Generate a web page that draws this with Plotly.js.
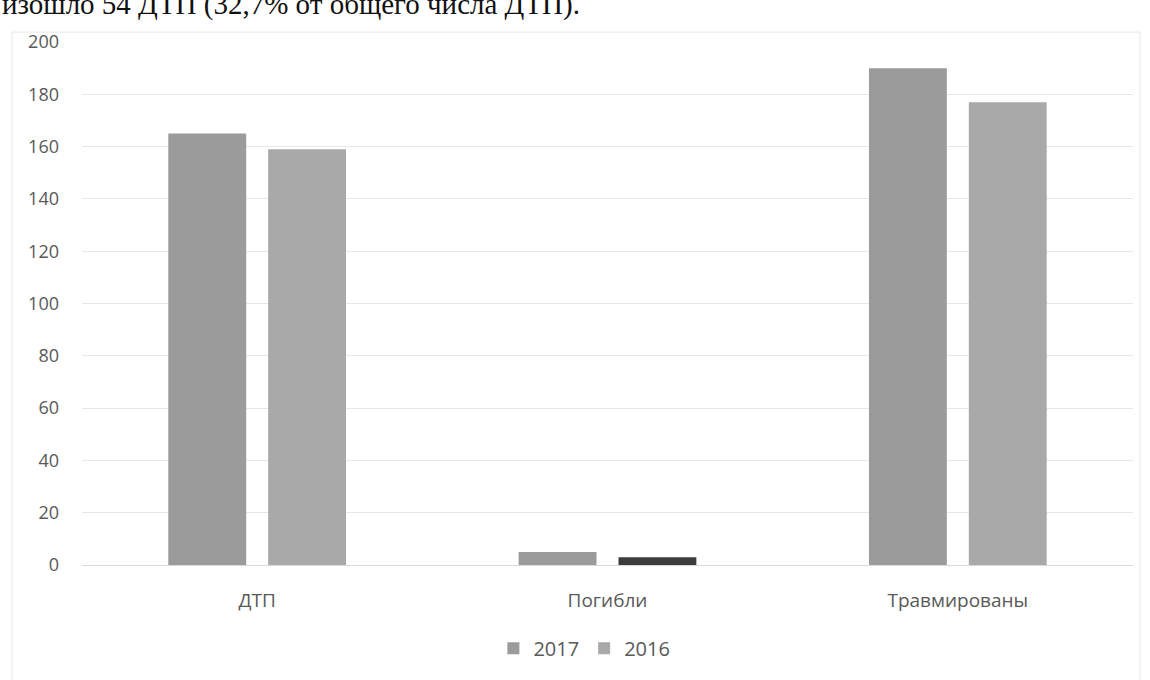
<!DOCTYPE html>
<html>
<head>
<meta charset="utf-8">
<script src="https://cdn.plot.ly/plotly-3.0.1.min.js"></script>
<style>html,body{margin:0;padding:0;background:#fff;}#chart{width:1150px;height:680px;}</style>
</head>
<body>
<div id="chart"></div>
<script>
var categories = ['ДТП', 'Погибли', 'Травмированы'];
var values2017 = [165, 5, 190];
var values2016 = [159, 3, 177];
var seriesNames = ['2017', '2016'];
var yTicks = [0, 20, 40, 60, 80, 100, 120, 140, 160, 180, 200];
var headerText = 'изошло 54 ДТП (32,7% от общего числа ДТП).';

var color2017 = '#9b9b9b';
var colors2016 = ['#a9a9a9', '#3c3c3c', '#a9a9a9'];

var traces = [
  {type: 'bar', name: seriesNames[0], x: categories, y: values2017,
   marker: {color: color2017}, hoverinfo: 'skip'},
  {type: 'bar', name: seriesNames[1], x: categories, y: values2016,
   marker: {color: colors2016}, hoverinfo: 'skip'}
];

var layout = {
  width: 1150, height: 680,
  margin: {l: 82, r: 17, t: 42, b: 115},
  paper_bgcolor: '#ffffff', plot_bgcolor: '#ffffff',
  barmode: 'group', bargap: 0.43, bargroupgap: 0.22,
  font: {family: 'Open Sans, sans-serif', color: '#595959', size: 18},
  showlegend: true,
  legend: {orientation: 'h', x: 0.478, xanchor: 'center', y: -0.159, yanchor: 'middle',
           font: {size: 20, color: '#595959'}, traceorder: 'normal'},
  xaxis: {type: 'category', showgrid: false, showline: true, linecolor: '#d9d9d9', linewidth: 1,
          ticks: '', ticklabelstandoff: 18, tickfont: {size: 19, color: '#595959'}},
  yaxis: {range: [0, 200], tickvals: yTicks, showgrid: true, gridcolor: '#e6e6e6', gridwidth: 1,
          zeroline: false, showline: false, ticks: '', ticklabelstandoff: 22,
          tickfont: {size: 18, color: '#595959'}},
  shapes: [
    {type: 'rect', xref: 'paper', yref: 'paper', x0: -0.0666, x1: 1.0067, y0: -0.35, y1: 1.019,
     line: {color: '#e6e6e6', width: 1}, fillcolor: 'rgba(0,0,0,0)', layer: 'below'}
  ],
  annotations: [
    {text: headerText, xref: 'paper', yref: 'paper', x: -0.078, xanchor: 'left',
     y: 1.036, yanchor: 'bottom', showarrow: false,
     font: {family: 'Liberation Serif, Times New Roman, serif', size: 29, color: '#111111'}}
  ]
};

Plotly.newPlot('chart', traces, layout, {displayModeBar: false, staticPlot: true});
</script>
</body>
</html>
